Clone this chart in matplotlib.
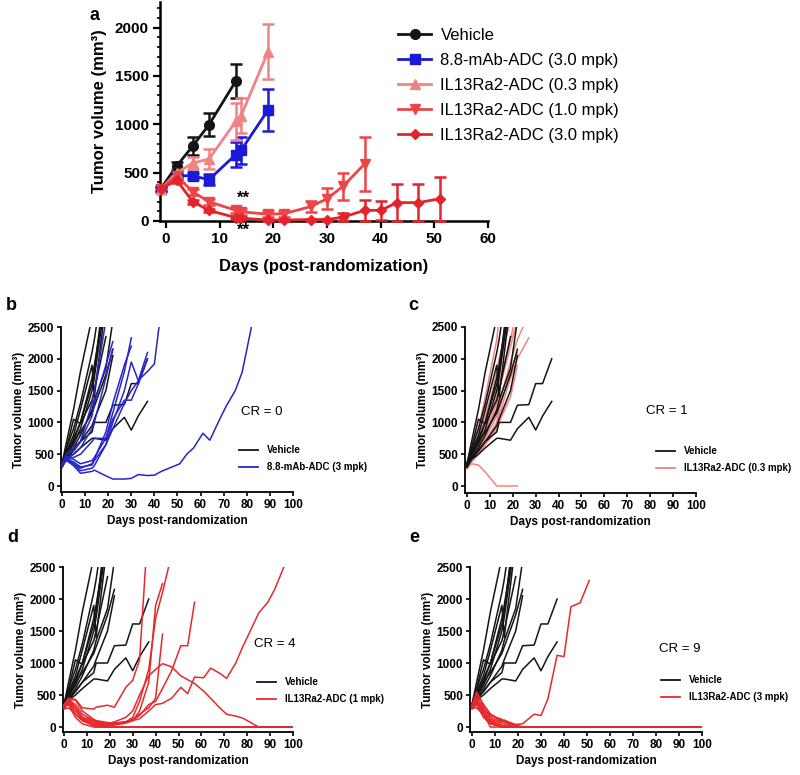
import matplotlib
matplotlib.use('Agg')
import matplotlib.pyplot as plt
from matplotlib.lines import Line2D
from matplotlib.ticker import MultipleLocator

plt.rcParams['font.family'] = ['Liberation Sans', 'DejaVu Sans']

W, H = 800, 775

# ---------------- Panel a data (mean +/- SEM) ----------------
veh_days = [-1, 2, 5, 8, 13]
veh_mean = [332, 570, 777, 995, 1447]
veh_err = [20, 40, 95, 120, 175]

mab_days = [-1, 2, 5, 8, 13, 14, 19]
mab_mean = [332, 470, 466, 428, 687, 732, 1147]
mab_err = [20, 30, 30, 60, 130, 140, 215]

il03_days = [-1, 2, 5, 8, 13, 14, 19]
il03_mean = [332, 500, 600, 640, 1030, 1090, 1750]
il03_err = [20, 40, 60, 100, 190, 180, 285]

il10_days = [-1, 2, 5, 8, 13, 14, 19, 22, 27, 30, 33, 37]
il10_mean = [332, 470, 300, 200, 110, 95, 70, 75, 150, 230, 360, 590]
il10_err = [20, 30, 30, 30, 30, 30, 30, 30, 60, 110, 140, 280]

il30_days = [-1, 2, 5, 8, 13, 14, 19, 22, 27, 30, 33, 37, 40, 43, 47, 51]
il30_mean = [332, 420, 200, 110, 35, 30, 10, 10, 15, 15, 40, 110, 110, 190, 190, 230]
il30_err = [20, 30, 20, 15, 15, 10, 5, 5, 10, 10, 40, 110, 100, 190, 195, 230]

legend_a = ['Vehicle', '8.8-mAb-ADC (3.0 mpk)', 'IL13Ra2-ADC (0.3 mpk)',
            'IL13Ra2-ADC (1.0 mpk)', 'IL13Ra2-ADC (3.0 mpk)']

# ---------------- Individual mice (day, volume) ----------------
vehicle_mice = [
    [(0, 350), (2, 700), (5, 1200), (8, 1800), (13, 2650)],
    [(0, 330), (2, 550), (5, 800), (8, 1200), (13, 1900), (14, 1400), (19, 2900)],
    [(0, 300), (2, 500), (5, 700), (8, 1000), (13, 1600), (14, 1800), (19, 3300)],
    [(0, 320), (2, 480), (5, 650), (8, 900), (13, 1500), (14, 1700), (19, 3000)],
    [(0, 350), (2, 600), (5, 1050), (8, 980), (13, 1350), (14, 1500), (19, 2350)],
    [(0, 310), (2, 450), (5, 600), (8, 800), (13, 1200), (14, 1350), (19, 1850), (22, 2600)],
    [(0, 340), (2, 500), (5, 700), (8, 850), (13, 1150), (14, 1250), (19, 1750), (22, 2150)],
    [(0, 300), (2, 420), (5, 560), (8, 700), (13, 950), (14, 1050), (19, 1500), (22, 2050)],
    [(0, 330), (2, 450), (5, 550), (8, 700), (13, 850), (14, 1000), (19, 1000), (22, 1270),
     (27, 1280), (30, 1610), (33, 1610), (37, 2000)],
    [(0, 300), (2, 420), (5, 500), (8, 600), (13, 750), (14, 750), (19, 720), (22, 900),
     (27, 1080), (30, 880), (33, 1100), (37, 1330)],
    [(0, 360), (2, 600), (5, 900), (8, 1300), (13, 2100), (14, 2300), (19, 3500)],
    [(0, 320), (2, 520), (5, 750), (8, 1000), (13, 1700), (14, 1900), (19, 3000)],
]

mab_mice = [
    [(0, 350), (2, 400), (5, 320), (8, 200), (13, 230), (14, 250), (19, 160), (22, 110),
     (27, 110), (30, 120), (33, 180), (37, 165), (40, 170), (43, 230), (47, 290), (51, 350),
     (54, 500), (57, 600), (61, 830), (64, 720), (68, 1030), (71, 1250), (75, 1500),
     (78, 1790), (82, 2500)],
    [(0, 320), (2, 450), (5, 350), (8, 240), (13, 280), (14, 320), (19, 650), (22, 1000),
     (27, 1500), (30, 1950), (33, 1660), (37, 1800), (40, 1920), (43, 2800)],
    [(0, 330), (2, 420), (5, 380), (8, 300), (13, 330), (14, 400), (19, 650), (22, 900),
     (27, 1300), (30, 1500), (33, 1650), (37, 2100)],
    [(0, 350), (2, 450), (5, 420), (8, 350), (13, 400), (14, 450), (19, 750), (22, 1150),
     (27, 1800), (30, 2330)],
    [(0, 330), (2, 400), (5, 350), (8, 280), (13, 350), (14, 420), (19, 850), (22, 1300),
     (27, 1900), (30, 2200)],
    [(0, 350), (2, 500), (5, 600), (8, 700), (13, 1100), (14, 1300), (19, 1900), (22, 2270)],
    [(0, 340), (2, 500), (5, 550), (8, 700), (13, 1300), (14, 1500), (19, 2600)],
    [(0, 320), (2, 450), (5, 500), (8, 600), (13, 900), (14, 1000), (19, 1700), (22, 2150)],
    [(0, 300), (2, 420), (5, 450), (8, 500), (13, 700), (14, 750), (19, 750), (22, 1050),
     (27, 1350), (30, 1350), (33, 1600), (37, 2000)],
]

il03_mice = [
    [(0, 280), (2, 350), (5, 330), (8, 220), (13, 0), (14, 0), (19, 0), (22, 0)],
    [(0, 300), (2, 550), (5, 900), (8, 1400), (13, 2300), (14, 2650)],
    [(0, 280), (2, 450), (5, 700), (8, 1000), (13, 1800), (14, 2000), (19, 2700)],
    [(0, 300), (2, 430), (5, 600), (8, 800), (13, 1300), (14, 1500), (19, 2200), (22, 2600)],
    [(0, 290), (2, 400), (5, 550), (8, 750), (13, 1100), (14, 1300), (19, 1950), (22, 2300),
     (27, 2700)],
    [(0, 280), (2, 380), (5, 500), (8, 650), (13, 900), (14, 1100), (19, 1700), (22, 2000),
     (27, 2330)],
    [(0, 320), (2, 500), (5, 750), (8, 1100), (13, 1700), (14, 1900), (19, 2600)],
    [(0, 300), (2, 420), (5, 600), (8, 850), (13, 1400), (14, 1600), (19, 2300), (22, 2800)],
    [(0, 270), (2, 380), (5, 500), (8, 700), (13, 1000), (14, 1200), (19, 1800), (22, 2100)],
    [(0, 300), (2, 400), (5, 550), (8, 700), (13, 950), (14, 1000), (19, 1400), (22, 1900)],
]

il10_mice = [
    [(0, 350), (2, 450), (5, 430), (8, 300), (13, 280), (14, 310), (19, 340), (22, 310),
     (27, 620), (30, 730), (33, 1050), (37, 3300)],
    [(0, 320), (2, 400), (5, 250), (8, 120), (13, 50), (14, 40), (19, 30), (22, 50), (27, 80),
     (30, 150), (33, 400), (37, 900), (40, 1700), (43, 2100), (47, 2700)],
    [(0, 300), (2, 380), (5, 200), (8, 100), (13, 30), (14, 20), (19, 20), (22, 30), (27, 60),
     (30, 100), (33, 250), (37, 700), (40, 1900), (43, 2240)],
    [(0, 330), (2, 420), (5, 350), (8, 200), (13, 100), (14, 80), (19, 60), (22, 60), (27, 80),
     (30, 120), (33, 200), (37, 300), (40, 450), (43, 1450)],
    [(0, 350), (2, 430), (5, 420), (8, 250), (13, 120), (14, 100), (19, 70), (22, 60), (27, 80),
     (30, 110), (33, 180), (37, 350), (40, 400), (43, 600), (47, 880), (51, 1270), (54, 1270),
     (57, 1950)],
    [(0, 330), (2, 450), (5, 300), (8, 150), (13, 100), (14, 80), (19, 50), (22, 80), (27, 150),
     (30, 250), (33, 500), (37, 800), (40, 900), (43, 990), (47, 940), (51, 800), (54, 740),
     (57, 680), (61, 560), (64, 450), (68, 300), (71, 200), (75, 170), (78, 140), (82, 60),
     (85, 0), (100, 0)],
    [(0, 320), (2, 380), (5, 300), (8, 150), (13, 80), (14, 60), (19, 40), (22, 50), (27, 80),
     (30, 100), (33, 130), (37, 250), (40, 350), (43, 370), (47, 450), (51, 620), (54, 520),
     (57, 780), (61, 770), (64, 920), (68, 840), (71, 760), (75, 1000), (78, 1250), (82, 1550),
     (85, 1780), (89, 1950), (92, 2150), (96, 2500)],
    [(0, 300), (2, 350), (5, 150), (8, 50), (13, 0), (100, 0)],
    [(0, 350), (2, 400), (5, 300), (8, 150), (13, 50), (14, 30), (19, 0), (100, 0)],
    [(0, 280), (2, 300), (5, 200), (8, 100), (13, 20), (14, 0), (100, 0)],
]

il30_mice = [
    [(0, 300), (2, 400), (5, 350), (8, 200), (13, 90), (14, 100), (19, 40), (22, 50), (27, 200),
     (30, 180), (33, 440), (37, 1120), (40, 1100), (43, 1880), (47, 1940), (51, 2290)],
    [(0, 330), (2, 450), (5, 250), (8, 100), (13, 30), (14, 20), (19, 0), (100, 0)],
    [(0, 300), (2, 380), (5, 200), (8, 0), (100, 0)],
    [(0, 350), (2, 500), (5, 300), (8, 150), (13, 80), (14, 110), (19, 20), (22, 0), (100, 0)],
    [(0, 280), (2, 350), (5, 150), (8, 50), (13, 0), (100, 0)],
    [(0, 320), (2, 420), (5, 250), (8, 120), (13, 60), (14, 50), (19, 0), (100, 0)],
    [(0, 340), (2, 550), (5, 350), (8, 200), (13, 100), (14, 80), (19, 10), (22, 0), (100, 0)],
    [(0, 290), (2, 300), (5, 200), (8, 80), (13, 10), (14, 0), (100, 0)],
    [(0, 310), (2, 400), (5, 280), (8, 180), (13, 120), (14, 90), (19, 30), (22, 0), (100, 0)],
    [(0, 330), (2, 370), (5, 220), (8, 60), (13, 0), (100, 0)],
]

BLACK = '#141414'
BLUE = '#1a1ad8'
BLUE_LINE = '#2626c8'
PINK = '#f08484'
RED10 = '#ee4446'
RED30 = '#e3242a'
RED_LINE = '#e52a2d'


def px_axes(fig, l, t, r, b):
    return fig.add_axes([l / W, 1 - b / H, (r - l) / W, (b - t) / H])


fig = plt.figure(figsize=(W / 100, H / 100), dpi=100)

# ---------------- Panel a ----------------
ax = px_axes(fig, 160, 2, 488, 221)
series = [
    (veh_days, veh_mean, veh_err, BLACK, 'o', 7),
    (mab_days, mab_mean, mab_err, BLUE, 's', 7),
    (il03_days, il03_mean, il03_err, PINK, '^', 7),
    (il10_days, il10_mean, il10_err, RED10, 'v', 7),
    (il30_days, il30_mean, il30_err, RED30, 'D', 5),
]
handles = []
for (d, m, e, c, mk, ms), lab in zip(series, legend_a):
    ax.errorbar(d, m, yerr=e, color=c, ecolor=c, marker=mk, ms=ms, lw=2,
                elinewidth=1.8, capsize=4, capthick=1.8, clip_on=False, zorder=3)
    handles.append(Line2D([], [], color=c, marker=mk, ms=ms, lw=2))
ax.set_xlim(-1.12, 60)
ax.set_ylim(0, 2265)
ax.xaxis.set_major_locator(MultipleLocator(10))
ax.yaxis.set_major_locator(MultipleLocator(500))
ax.yaxis.set_minor_locator(MultipleLocator(100))
for s in ['top', 'right']:
    ax.spines[s].set_visible(False)
for s in ['left', 'bottom']:
    ax.spines[s].set_linewidth(1.8)
ax.tick_params(axis='both', which='major', length=5, width=1.6, labelsize=11, pad=3)
ax.tick_params(axis='y', which='minor', length=2.5, width=1.2)
for lab in ax.get_xticklabels() + ax.get_yticklabels():
    lab.set_fontweight('bold')
ax.set_xlabel('Days (post-randomization)', fontsize=12, fontweight='bold', labelpad=9)
ax.set_ylabel('Tumor volume (mm³)', fontsize=12, fontweight='bold', labelpad=6)
ax.text(14.5, 230, '**', ha='center', va='center', fontsize=12, fontweight='bold')
ax.text(14.5, -100, '**', ha='center', va='center', fontsize=12, fontweight='bold')
fig.text(90 / W, 1 - 15 / H, 'a', fontsize=13, fontweight='bold', ha='left', va='center')
fig.legend(handles, legend_a, loc='upper left', bbox_to_anchor=(398 / W, 1 - 28 / H),
           frameon=False, fontsize=12, handlelength=2.0, handletextpad=0.55,
           labelspacing=0.6, borderaxespad=0, borderpad=0)


# ---------------- Panels b-e ----------------
def indiv(box, xl, yl, treat, color, label, cr, cr_xy, leg_xy, letter, letter_xy,
          vehicle_on_top=False):
    ax = px_axes(fig, *box)
    zt, zv = (2, 3) if vehicle_on_top else (3, 2)
    for mouse in vehicle_mice:
        ax.plot([p[0] for p in mouse], [p[1] for p in mouse], color=BLACK, lw=1.1, zorder=zv)
    for mouse in treat:
        ax.plot([p[0] for p in mouse], [p[1] for p in mouse], color=color, lw=1.1, zorder=zt)
    ax.set_xlim(*xl)
    ax.set_ylim(*yl)
    ax.xaxis.set_major_locator(MultipleLocator(10))
    ax.yaxis.set_major_locator(MultipleLocator(500))
    for s in ['top', 'right']:
        ax.spines[s].set_visible(False)
    for s in ['left', 'bottom']:
        ax.spines[s].set_linewidth(1.3)
    ax.tick_params(axis='both', length=3, width=1.2, labelsize=8.5, pad=2)
    for lab in ax.get_xticklabels() + ax.get_yticklabels():
        lab.set_fontweight('bold')
    ax.set_xlabel('Days post-randomization', fontsize=8.5, fontweight='bold', labelpad=3)
    ax.set_ylabel('Tumor volume (mm³)', fontsize=8.5, fontweight='bold', labelpad=2)
    fig.text(cr_xy[0] / W, 1 - cr_xy[1] / H, cr, fontsize=9.5, ha='center', va='center')
    fig.text(letter_xy[0] / W, 1 - letter_xy[1] / H, letter, fontsize=13,
             fontweight='bold', ha='left', va='center')
    hs = [Line2D([], [], color=BLACK, lw=1.3), Line2D([], [], color=color, lw=1.3)]
    leg = fig.legend(hs, ['Vehicle', label], loc='upper left',
                     bbox_to_anchor=(leg_xy[0] / W, 1 - leg_xy[1] / H), frameon=False,
                     fontsize=7, handlelength=2.0, handletextpad=0.9, labelspacing=0.75,
                     borderaxespad=0, borderpad=0)
    for t in leg.get_texts():
        t.set_fontweight('bold')
    return ax


indiv((61, 327, 293, 492), (-0.43, 100), (-94, 2500), mab_mice, BLUE_LINE,
      '8.8-mAb-ADC (3 mpk)', 'CR = 0', (262, 412), (239, 445), 'b', (6, 306))
indiv((465, 327, 696, 493), (-0.87, 100), (-110, 2500), il03_mice, PINK,
      'IL13Ra2-ADC (0.3 mpk)', 'CR = 1', (667, 411), (656, 446), 'c', (408, 306),
      vehicle_on_top=True)
indiv((63, 567, 293, 732), (-0.44, 100), (-78, 2500), il10_mice, RED_LINE,
      'IL13Ra2-ADC (1 mpk)', 'CR = 4', (275, 644), (257, 677), 'd', (7, 538))
indiv((470, 567, 702, 732), (-0.87, 100), (-78, 2500), il30_mice, RED_LINE,
      'IL13Ra2-ADC (3 mpk)', 'CR = 9', (680, 649), (661, 675), 'e', (409, 538))

fig.savefig('out.png', dpi=100)
